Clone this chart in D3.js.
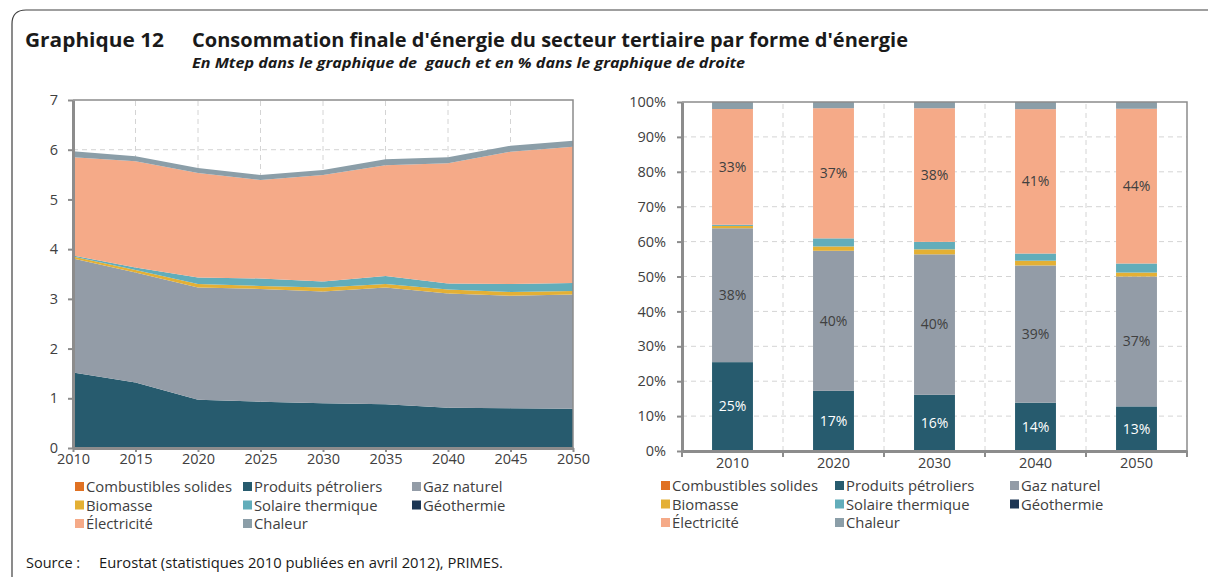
<!DOCTYPE html>
<html>
<head>
<meta charset="utf-8">
<script src="https://cdn.jsdelivr.net/npm/d3@7"></script>
<style>
    body { margin: 0; background: #fff; }
    svg { display: block; }
    text { font-family: "Open Sans", "Noto Sans", sans-serif; fill: #404040; }
</style>
</head>
<body>
<div id="chart"></div>
<script>
'use strict';

const years = [2010, 2015, 2020, 2025, 2030, 2035, 2040, 2045, 2050];
const barYears = [2010, 2020, 2030, 2040, 2050];

const seriesNames = ["Combustibles solides", "Produits pétroliers", "Gaz naturel", "Biomasse",
    "Solaire thermique", "Géothermie", "Électricité", "Chaleur"];
const seriesColors = ["#e07122", "#275b6e", "#939ca7", "#e4b034",
    "#62adba", "#1c3654", "#f5aa88", "#8b9ea8"];

const combustibles = [0.01, 0.01, 0, 0, 0, 0, 0, 0, 0];
const petrole = [1.51, 1.31, 0.97, 0.93, 0.90, 0.88, 0.81, 0.80, 0.79];
const gaz = [2.29, 2.21, 2.26, 2.27, 2.25, 2.35, 2.30, 2.26, 2.30];
const biomasse = [0.04, 0.05, 0.07, 0.06, 0.08, 0.07, 0.08, 0.08, 0.07];
const solaire = [0.02, 0.05, 0.13, 0.15, 0.12, 0.16, 0.12, 0.16, 0.16];
const geothermie = [0, 0, 0, 0, 0, 0, 0, 0, 0];
const electricite = [1.98, 2.14, 2.10, 1.98, 2.14, 2.23, 2.42, 2.66, 2.74];
const chaleur = [0.12, 0.10, 0.10, 0.10, 0.10, 0.12, 0.12, 0.12, 0.12];

const yTicksLeft = [0, 1, 2, 3, 4, 5, 6, 7];
const labelledSeries = ["Produits pétroliers", "Gaz naturel", "Électricité"];

const width = 1208;
const height = 578;

const svg = d3.select("#chart")
    .append("svg")
    .attr("width", width)
    .attr("height", height)
    .attr("viewBox", `0 0 ${width} ${height}`);

const allSeries = [combustibles, petrole, gaz, biomasse, solaire, geothermie, electricite, chaleur];
const rows = years.map((yr, i) => {
    const row = { year: yr };
    seriesNames.forEach((name, k) => { row[name] = allSeries[k][i]; });
    return row;
});
const color = d3.scaleOrdinal(seriesNames, seriesColors);

// cadre extérieur
svg.append("path")
    .attr("fill", "none")
    .attr("stroke", "#404040")
    .attr("stroke-width", 1.2)
    .attr("d", "M12,577 V24 Q12,10 26,10 H1208");

// titres
function title(x, y, size, len, txt, italic) {
    svg.append("text").attr("x", x).attr("y", y)
        .attr("textLength", len).attr("lengthAdjust", "spacingAndGlyphs")
        .attr("xml:space", "preserve")
        .style("font-size", size + "px").style("font-weight", "bold")
        .style("font-style", italic ? "italic" : "normal")
        .style("fill", "#1a1a1a")
        .text(txt);
}
title(25, 47, 19, 139, "Graphique 12");
title(192, 47, 19, 716, "Consommation finale d'énergie du secteur tertiaire par forme d'énergie");
title(192, 68, 14, 553, "En Mtep dans le graphique de  gauch et en % dans le graphique de droite", true);

const gridColor = "#d4d4d4";
const axisColor = "#8c8c8c";

// ---------- graphique de gauche : aires empilées ----------
const xL = d3.scaleLinear().domain([2010, 2050]).range([73, 573]);
const yL = d3.scaleLinear().domain([0, 7]).range([448, 100]);

const left = svg.append("g");

left.append("g").selectAll("line.h")
    .data(yTicksLeft.slice(1, -1))
    .join("line")
    .attr("x1", xL(2010)).attr("x2", xL(2050))
    .attr("y1", d => yL(d)).attr("y2", d => yL(d))
    .attr("stroke", gridColor).attr("stroke-dasharray", "5,4");
left.append("g").selectAll("line.v")
    .data(years.slice(1, -1))
    .join("line")
    .attr("x1", d => xL(d)).attr("x2", d => xL(d))
    .attr("y1", yL(0)).attr("y2", yL(7))
    .attr("stroke", gridColor).attr("stroke-dasharray", "5,4");

const stackL = d3.stack().keys(seriesNames)(rows);
const area = d3.area()
    .x(d => xL(d.data.year))
    .y0(d => yL(d[0]))
    .y1(d => yL(d[1]));

left.append("g").selectAll("path")
    .data(stackL)
    .join("path")
    .attr("fill", d => color(d.key))
    .attr("d", area);

// bordure haut / droite
left.append("path")
    .attr("fill", "none").attr("stroke", axisColor).attr("stroke-width", 1.5)
    .attr("d", `M${xL(2010)},${yL(7)} H${xL(2050)} V${yL(0)}`);

const axL = left.append("g")
    .attr("transform", `translate(${xL(2010)},0)`)
    .call(d3.axisLeft(yL).tickValues(yTicksLeft).tickFormat(d3.format("d"))
        .tickSize(5).tickSizeOuter(0).tickPadding(10));
const axB = left.append("g")
    .attr("transform", `translate(0,${yL(0)})`)
    .call(d3.axisBottom(xL).tickValues(years).tickFormat(d3.format("d"))
        .tickSize(4).tickSizeOuter(0).tickPadding(2));

[axL, axB].forEach(ax => {
    ax.select(".domain").attr("stroke", axisColor).attr("stroke-width", 3);
    ax.selectAll(".tick line").attr("stroke", axisColor).attr("stroke-width", 2);
    ax.selectAll(".tick text").style("font-size", "14.5px").style("font-family", "Open Sans, sans-serif")
        .attr("fill", "#404040");
});

// ---------- graphique de droite : barres 100 % ----------
const xR = d3.scaleBand().domain(barYears).range([682, 1187]);
const yR = d3.scaleLinear().domain([0, 1]).range([451, 102]);
const barW = xR.bandwidth() * 0.405;

const right = svg.append("g");
const pctTicks = d3.range(0, 11).map(d => d / 10);

right.append("g").selectAll("line")
    .data(pctTicks.slice(1, -1))
    .join("line")
    .attr("x1", 682).attr("x2", 1187)
    .attr("y1", d => yR(d)).attr("y2", d => yR(d))
    .attr("stroke", gridColor).attr("stroke-dasharray", "5,4");

const bounds = barYears.map(d => xR(d)).concat([xR(barYears[barYears.length - 1]) + xR.bandwidth()]);
right.append("g").selectAll("line")
    .data(bounds.slice(1, -1))
    .join("line")
    .attr("x1", d => d).attr("x2", d => d)
    .attr("y1", yR(0)).attr("y2", yR(1))
    .attr("stroke", gridColor).attr("stroke-dasharray", "5,4");

const barRows = rows.filter(r => barYears.includes(r.year));
const stackR = d3.stack().keys(seriesNames).offset(d3.stackOffsetExpand)(barRows);

const layers = right.append("g").selectAll("g")
    .data(stackR)
    .join("g")
    .attr("fill", d => color(d.key));
layers.selectAll("rect")
    .data(d => d)
    .join("rect")
    .attr("x", d => xR(d.data.year) + (xR.bandwidth() - barW) / 2)
    .attr("width", barW)
    .attr("y", d => yR(d[1]))
    .attr("height", d => yR(d[0]) - yR(d[1]));

right.append("g").selectAll("text")
    .data(stackR.filter(s => labelledSeries.includes(s.key)).flatMap(s => s.map(d => ({ key: s.key, d }))))
    .join("text")
    .attr("x", e => xR(e.d.data.year) + xR.bandwidth() / 2)
    .attr("y", e => yR((e.d[0] + e.d[1]) / 2))
    .attr("dy", "0.35em")
    .attr("text-anchor", "middle")
    .style("font-size", "14px")
    .style("fill", e => e.key === "Produits pétroliers" ? "#ffffff" : "#404040")
    .text(e => Math.round((e.d[1] - e.d[0]) * 100) + "%");

right.append("path")
    .attr("fill", "none").attr("stroke", axisColor).attr("stroke-width", 1.5)
    .attr("d", `M682,${yR(1)} H1187 V${yR(0)}`);

const axRL = right.append("g")
    .attr("transform", "translate(682,0)")
    .call(d3.axisLeft(yR).tickValues(pctTicks).tickFormat(d3.format(".0%"))
        .tickSize(5).tickSizeOuter(0).tickPadding(11));
const axRB = right.append("g")
    .attr("transform", `translate(0,${yR(0)})`)
    .call(d3.axisBottom(xR).tickSize(0).tickSizeOuter(0).tickPadding(7));
right.append("g").selectAll("line")
    .data(bounds)
    .join("line")
    .attr("x1", d => d).attr("x2", d => d)
    .attr("y1", yR(0)).attr("y2", yR(0) + 6)
    .attr("stroke", axisColor).attr("stroke-width", 2);

[axRL, axRB].forEach(ax => {
    ax.select(".domain").attr("stroke", axisColor).attr("stroke-width", 3);
    ax.selectAll(".tick line").attr("stroke", axisColor).attr("stroke-width", 2);
    ax.selectAll(".tick text").style("font-size", "14.5px").style("font-family", "Open Sans, sans-serif")
        .attr("fill", "#404040");
});

// ---------- légendes ----------
function legend(x0, y0, colX) {
    const g = svg.append("g").attr("transform", `translate(${x0},${y0})`);
    const item = g.selectAll("g")
        .data(seriesNames)
        .join("g")
        .attr("transform", (d, i) => `translate(${colX[i % 3]},${Math.floor(i / 3) * 18.5})`);
    item.append("rect")
        .attr("x", 0).attr("y", -5).attr("width", 9).attr("height", 9)
        .attr("fill", d => color(d));
    item.append("text")
        .attr("x", 11).attr("y", 0).attr("dy", "0.35em")
        .style("font-size", "14.8px")
        .text(d => d);
}
legend(75, 487, [0, 168, 337]);
legend(661, 486, [0, 174, 349]);

svg.append("text").attr("x", 26).attr("y", 568)
    .style("font-size", "14.5px").style("fill", "#1a1a1a")
    .text("Source :");
svg.append("text").attr("x", 99).attr("y", 568)
    .attr("textLength", 404).attr("lengthAdjust", "spacingAndGlyphs")
    .style("font-size", "14.5px").style("fill", "#1a1a1a")
    .text("Eurostat (statistiques 2010 publiées en avril 2012), PRIMES.");
</script>
</body>
</html>
